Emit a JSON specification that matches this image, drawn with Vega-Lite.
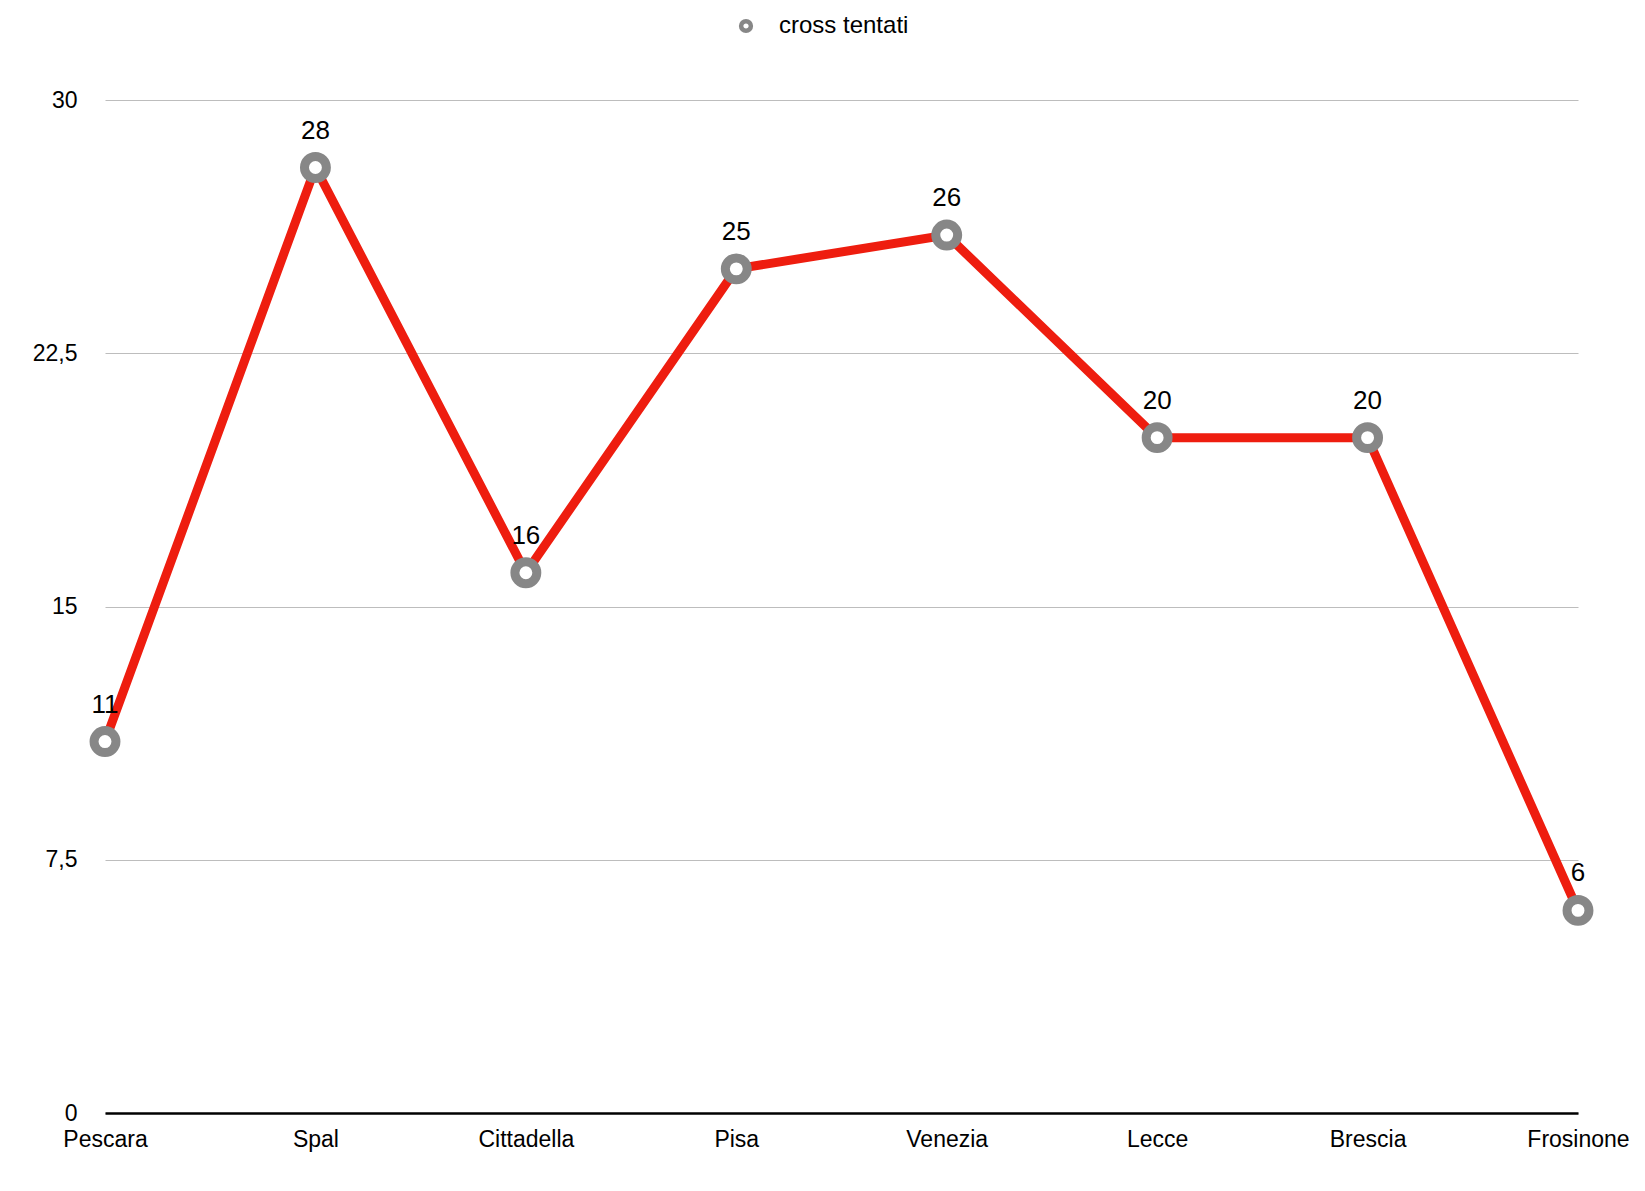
{
  "$schema": "https://vega.github.io/schema/vega-lite/v6.json",
  "width": 1473,
  "height": 1013,
  "autosize": "none",
  "padding": {"left": 105, "top": 100, "right": 67, "bottom": 78},
  "background": "white",
  "config": {
    "view": {"stroke": null},
    "font": "Liberation Sans"
  },
  "data": {
    "values": [
      {"team": "Pescara", "value": 11, "series": "cross tentati"},
      {"team": "Spal", "value": 28, "series": "cross tentati"},
      {"team": "Cittadella", "value": 16, "series": "cross tentati"},
      {"team": "Pisa", "value": 25, "series": "cross tentati"},
      {"team": "Venezia", "value": 26, "series": "cross tentati"},
      {"team": "Lecce", "value": 20, "series": "cross tentati"},
      {"team": "Brescia", "value": 20, "series": "cross tentati"},
      {"team": "Frosinone", "value": 6, "series": "cross tentati"}
    ]
  },
  "encoding": {
    "x": {
      "field": "team",
      "type": "nominal",
      "sort": null,
      "scale": {"type": "point", "padding": 0},
      "axis": {
        "title": null,
        "labelAngle": 0,
        "labelFontSize": 23,
        "labelColor": "#000000",
        "labelPadding": 15,
        "ticks": false,
        "grid": false,
        "domainColor": "#000000",
        "domainWidth": 2.5
      }
    },
    "y": {
      "field": "value",
      "type": "quantitative",
      "scale": {"domain": [0, 30]},
      "axis": {
        "title": null,
        "values": [0, 7.5, 15, 22.5, 30],
        "labelExpr": "replace(format(datum.value, '~g'), '.', ',')",
        "labelFontSize": 23,
        "labelColor": "#000000",
        "labelPadding": 28,
        "ticks": false,
        "domain": false,
        "grid": true,
        "gridColor": "#bdbdbd",
        "gridWidth": 1
      }
    }
  },
  "layer": [
    {
      "mark": {"type": "line", "color": "#EE1D0F", "strokeWidth": 9},
      "encoding": {}
    },
    {
      "mark": {"type": "point", "shape": "circle", "filled": false, "fill": "white", "fillOpacity": 1, "stroke": "#878787", "strokeWidth": 9, "size": 480, "opacity": 1},
      "encoding": {
        "color": {
          "field": "series",
          "type": "nominal",
          "scale": {"range": ["#878787"]},
          "legend": {
            "title": null,
            "orient": "none",
            "legendX": 629,
            "legendY": -86,
            "symbolType": "circle",
            "symbolSize": 95,
            "symbolStrokeWidth": 4.5,
            "symbolStrokeColor": "#878787",
            "symbolFillColor": "white",
            "labelFontSize": 24,
            "labelColor": "#000000",
            "labelOffset": 21
          }
        }
      }
    },
    {
      "mark": {"type": "text", "dy": -37, "fontSize": 26, "color": "#000000"},
      "encoding": {"text": {"field": "value", "type": "quantitative"}}
    }
  ]
}
